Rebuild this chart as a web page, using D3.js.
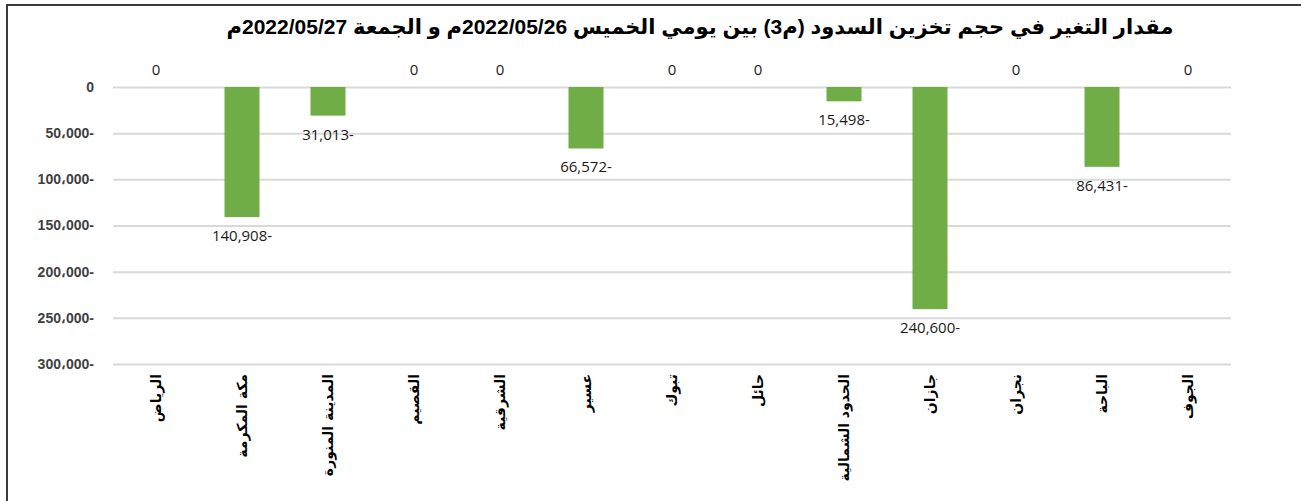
<!DOCTYPE html>
<html>
<head>
<meta charset="utf-8">
<script src="https://cdn.jsdelivr.net/npm/d3@7"></script>
<style>
  body { margin: 0; background: #fff; }
  svg { display: block; }
</style>
</head>
<body>
<div id="chart"></div>
<script>
// chart data (values are change in m3, negative = decrease)
const regions = ["الرياض", "مكة المكرمة", "المدينة المنورة", "القصيم", "الشرقية", "عسير", "تبوك", "حائل", "الحدود الشمالية", "جازان", "نجران", "الباحة", "الجوف"];
const changes = [0, -140908, -31013, 0, 0, -66572, 0, 0, -15498, -240600, 0, -86431, 0];
const yTicks = [0, -50000, -100000, -150000, -200000, -250000, -300000];
const yTickLabels = ["0", "50،000-", "100،000-", "150،000-", "200،000-", "250،000-", "300،000-"];
const title = "مقدار التغير في حجم تخزين السدود (م3) بين يومي الخميس 2022/05/26م و الجمعة 2022/05/27م";

const wid = 1301, hei = 501;
// plot area
const plotLeft = 113, plotRight = 1231, plotTop = 87, plotBottom = 364;

const svg = d3.select("#chart").append("svg")
    .attr("width", wid)
    .attr("height", hei);

// frame (only left and top edges are visible in the reference)
svg.append("path")
    .attr("d", `M7,${hei} L7,5 L${wid},5`)
    .attr("fill", "none")
    .attr("stroke", "#3a3a3a")
    .attr("stroke-width", 2);

// scales
const xScale = d3.scaleBand()
    .domain(regions)
    .range([plotLeft, plotRight])
    .paddingInner(0.593)
    .paddingOuter(0.593 / 2);

const yScale = d3.scaleLinear()
    .domain([-300000, 0])
    .range([plotBottom, plotTop]);

// gridlines
const grid = d3.axisLeft(yScale)
    .tickValues(yTicks)
    .tickSize(-(plotRight - plotLeft))
    .tickFormat("");
svg.append("g")
    .attr("transform", `translate(${plotLeft},0)`)
    .call(grid)
    .call(g => g.select(".domain").remove())
    .call(g => g.selectAll("line").attr("stroke", "#d9d9d9").attr("stroke-width", 2));

// y axis labels
const yAxis = d3.axisLeft(yScale)
    .tickValues(yTicks)
    .tickSize(0)
    .tickPadding(0)
    .tickFormat((d, i) => yTickLabels[i]);
svg.append("g")
    .attr("transform", `translate(94,0)`)
    .call(yAxis)
    .call(g => g.select(".domain").remove())
    .call(g => g.selectAll("text")
        .attr("fill", "#404040")
        .style("font-family", "'Liberation Sans', Arial, sans-serif")
        .style("font-weight", "bold")
        .style("font-size", "14px"));

// bars
svg.selectAll("rect.bar")
    .data(changes)
    .enter()
    .append("rect")
    .attr("class", "bar")
    .attr("x", (d, i) => xScale(regions[i]))
    .attr("y", d => yScale(Math.max(0, d)))
    .attr("width", xScale.bandwidth())
    .attr("height", d => Math.abs(yScale(d) - yScale(0)))
    .attr("fill", "#70ad47");

// value labels
const fmt = d3.format(",");
svg.selectAll("text.val")
    .data(changes)
    .enter()
    .append("text")
    .attr("class", "val")
    .attr("x", (d, i) => xScale(regions[i]) + xScale.bandwidth() / 2)
    .attr("y", d => d < 0 ? yScale(d) + 24 : yScale(0) - 12)
    .attr("text-anchor", "middle")
    .attr("fill", "#1a1a1a")
    .style("font-family", "'Open Sans', sans-serif")
    .style("font-size", "15px")
    .text(d => d < 0 ? fmt(-d) + "-" : "0");

// category labels, rotated
svg.selectAll("text.cat")
    .data(regions)
    .enter()
    .append("text")
    .attr("class", "cat")
    .attr("transform", d => `translate(${xScale(d) + xScale.bandwidth() / 2},374) rotate(-90)`)
    .attr("dy", "0.35em")
    .attr("text-anchor", "end")
    .attr("fill", "#000")
    .style("font-family", "'DejaVu Sans', sans-serif")
    .style("font-weight", "bold")
    .style("font-size", "14px")
    .text(d => d);

// title
svg.append("text")
    .attr("x", 700)
    .attr("y", 34)
    .attr("text-anchor", "middle")
    .attr("direction", "rtl")
    .attr("fill", "#000")
    .style("font-family", "'Liberation Sans', 'DejaVu Sans', sans-serif")
    .style("font-weight", "bold")
    .style("font-size", "21px")
    .text(title);
</script>
</body>
</html>
